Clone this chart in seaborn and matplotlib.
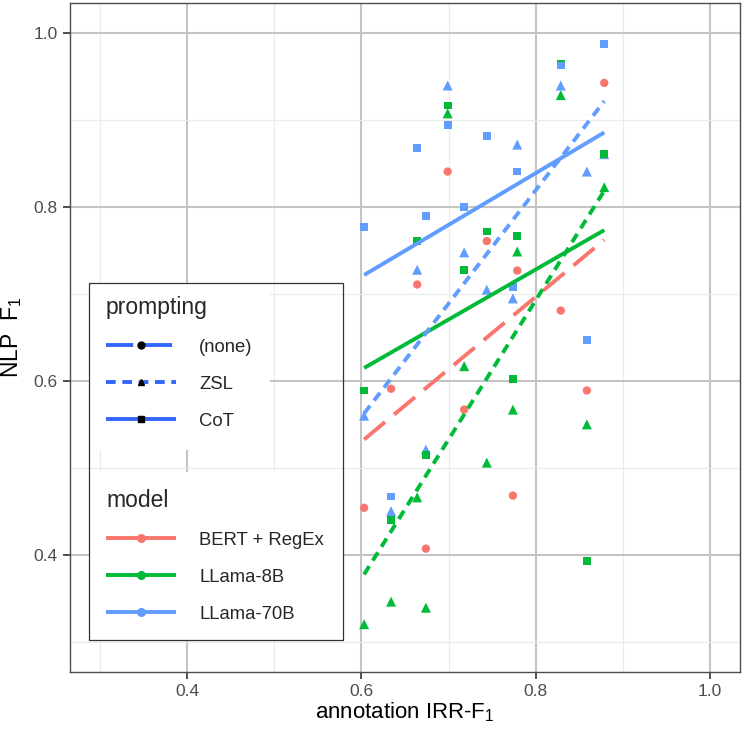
import pandas as pd
import seaborn as sns
import matplotlib.pyplot as plt
from matplotlib.lines import Line2D
from matplotlib.patches import Rectangle


# annotation IRR-F1 per task (shared x positions)
irr_f1 = [0.603, 0.634, 0.664, 0.674, 0.699, 0.718, 0.744, 0.774, 0.779, 0.829, 0.859, 0.879]

# NLP F1 per model / prompting
bert_none = [0.454, 0.591, 0.711, 0.407, 0.841, 0.567, 0.761, 0.468, 0.727, 0.681, 0.589, 0.943]
llama8_zsl = [0.320, 0.346, 0.466, 0.339, 0.908, 0.617, 0.506, 0.567, 0.749, 0.929, 0.550, 0.823]
llama8_cot = [0.589, 0.440, 0.761, 0.515, 0.917, 0.728, 0.772, 0.602, 0.767, 0.965, 0.393, 0.861]
llama70_zsl = [0.560, 0.450, 0.728, 0.521, 0.940, 0.748, 0.705, 0.695, 0.872, 0.940, 0.841, 0.861]
llama70_cot = [0.777, 0.467, 0.868, 0.790, 0.895, 0.800, 0.882, 0.708, 0.841, 0.963, 0.647, 0.988]

models = ['BERT + RegEx', 'LLama-8B', 'LLama-70B']
promptings = ['(none)', 'ZSL', 'CoT']

groups = [('BERT + RegEx', '(none)', bert_none),
          ('LLama-8B', 'ZSL', llama8_zsl),
          ('LLama-8B', 'CoT', llama8_cot),
          ('LLama-70B', 'ZSL', llama70_zsl),
          ('LLama-70B', 'CoT', llama70_cot)]

rows = []
for model, prompting, vals in groups:
    for x, y in zip(irr_f1, vals):
        rows.append((x, y, model, prompting))
df = pd.DataFrame(rows, columns=['irr', 'f1', 'model', 'prompting'])

sns.set_theme(style='white')
plt.rcParams['font.family'] = ['Liberation Sans', 'DejaVu Sans']
plt.rcParams['mathtext.fontset'] = 'custom'
plt.rcParams['mathtext.rm'] = 'Liberation Sans'
plt.rcParams['mathtext.it'] = 'Liberation Sans:italic'

palette = dict(zip(models, ['#F8766D', '#00BA38', '#619CFF']))
markers = dict(zip(promptings, ['o', '^', 's']))
marker_area = {'(none)': 36, 'ZSL': 52, 'CoT': 32}
linestyles = {'(none)': (0, (7, 3)), 'ZSL': (0, (2.5, 1.7)), 'CoT': '-'}

fig = plt.figure(figsize=(7.44, 7.30), dpi=100)
ax = fig.add_axes([70 / 744, 58 / 730, 670 / 744, 669 / 730])

for p in promptings:
    sns.scatterplot(data=df[df.prompting == p], x='irr', y='f1', hue='model',
                    palette=palette, marker=markers[p], s=marker_area[p],
                    linewidth=0, legend=False, ax=ax, zorder=3)

for model, prompting, vals in groups:
    sub = df[(df.model == model) & (df.prompting == prompting)]
    sns.regplot(data=sub, x='irr', y='f1', scatter=False, ci=None, ax=ax,
                color=palette[model],
                line_kws=dict(lw=2.8, linestyle=linestyles[prompting],
                              solid_capstyle='butt', zorder=4))

ax.set_xlim(0.265, 1.035)
ax.set_ylim(0.265, 1.035)
ax.set_xticks([0.4, 0.6, 0.8, 1.0])
ax.set_yticks([0.4, 0.6, 0.8, 1.0])
ax.set_xticks([0.3, 0.5, 0.7, 0.9], minor=True)
ax.set_yticks([0.3, 0.5, 0.7, 0.9], minor=True)
ax.set_axisbelow(True)
ax.grid(which='major', color='#C4C4C4', lw=1.5)
ax.grid(which='minor', color='#EBEBEB', lw=0.9)
ax.tick_params(which='major', length=5, width=1.2, color='#333333',
               labelsize=12.5, labelcolor='#4D4D4D', pad=4,
               bottom=True, left=True)
ax.tick_params(which='minor', length=0)
for sp in ax.spines.values():
    sp.set_color('#4D4D4D')
    sp.set_linewidth(1.0)

ax.set_xlabel('annotation IRR-F$_1$', fontsize=16, color='black', labelpad=1)
ax.set_ylabel('NLP  F$_1$', fontsize=16.5, color='black', labelpad=7)

# legend background pieces (in axes fraction)
def px_box(x0, y0, x1, y1, **kw):
    return Rectangle(((x0 - 70) / 670, (672 - y1) / 669), (x1 - x0) / 670, (y1 - y0) / 669,
                     transform=ax.transAxes, **kw)

ax.add_patch(px_box(89, 283, 270, 450, facecolor='white', edgecolor='none', zorder=5))
ax.add_patch(px_box(89, 472, 343, 640, facecolor='white', edgecolor='none', zorder=5))
ax.add_patch(px_box(89, 283, 343, 640, facecolor='none', edgecolor='#333333', lw=0.9, zorder=6))

prompt_handles = [Line2D([], [], color='#3366FF', lw=2.8, linestyle=linestyles[p],
                         solid_capstyle='butt', marker=markers[p], markersize=5,
                         markerfacecolor='black', markeredgecolor='black')
                  for p in promptings]
model_handles = [Line2D([], [], color=palette[m], lw=2.8, solid_capstyle='butt',
                        marker='o', markersize=6.5, markeredgewidth=0)
                 for m in models]

leg_kw = dict(loc='upper left', frameon=False, fontsize=13.3, title_fontsize=16.5,
              alignment='left', borderpad=0, borderaxespad=0, handlelength=3.8,
              handletextpad=1.25, labelspacing=1.08)
leg1 = ax.legend(prompt_handles, promptings, title='prompting',
                 bbox_to_anchor=((106 - 70) / 670, (672 - 296) / 669), **leg_kw)
leg1.set_zorder(7)
ax.add_artist(leg1)
leg2 = ax.legend(model_handles, models, title='model',
                 bbox_to_anchor=((106 - 70) / 670, (672 - 489) / 669), **leg_kw)
leg2.set_zorder(7)

fig.savefig('out.png', dpi=100, facecolor='white')
